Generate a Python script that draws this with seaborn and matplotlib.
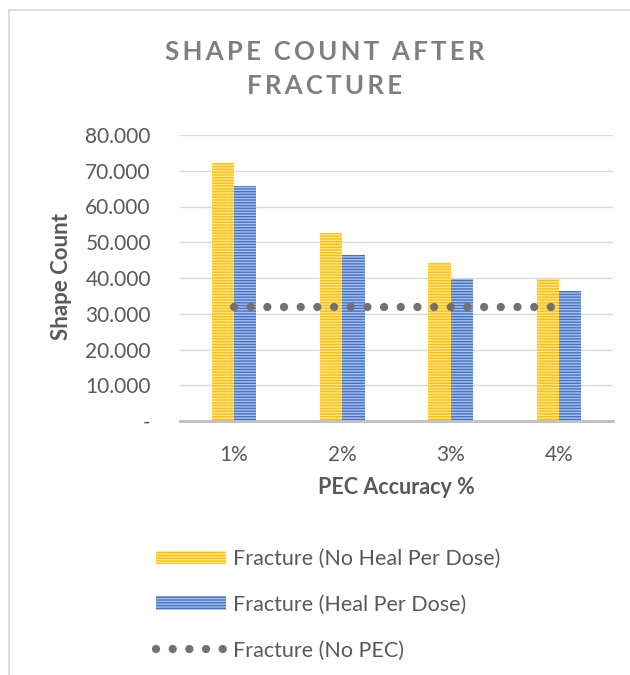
import matplotlib
matplotlib.use("Agg")
import matplotlib.pyplot as plt
from matplotlib.patches import Patch, Rectangle
from matplotlib.lines import Line2D
from matplotlib.ticker import FuncFormatter, MultipleLocator
import seaborn as sns
import pandas as pd

# ---- data ----
categories = ["1%", "2%", "3%", "4%"]
no_heal = [72200, 52600, 44200, 39700]
heal = [65700, 46400, 39700, 36400]
no_pec = [31900, 31900, 31900, 31900]
series_names = ["Fracture (No Heal Per Dose)", "Fracture (Heal Per Dose)", "Fracture (No PEC)"]
title = "SHAPE COUNT AFTER\nFRACTURE"
y_label = "Shape Count"
x_label = "PEC Accuracy %"

YELLOW = "#FFC000"
YELLOW_L = "#FFE699"
BLUE = "#4472C4"
BLUE_L = "#A9C1EA"
GRAY_DOT = "#767171"
TXT = "#595959"

sns.set_theme(style="white")
plt.rcParams["font.family"] = ["Lato", "DejaVu Sans"]
plt.rcParams["hatch.linewidth"] = 1.0

df = pd.DataFrame({
    "cat": categories * 2,
    "val": no_heal + heal,
    "series": [series_names[0]] * 4 + [series_names[1]] * 4,
})

fig = plt.figure(figsize=(6.3, 6.75), dpi=100)
ax = fig.add_axes([180 / 630, 1 - 421 / 675, (613 - 180) / 630, (421 - 135) / 675])

sns.barplot(data=df, x="cat", y="val", hue="series", order=categories,
            hue_order=series_names[:2], palette=[YELLOW, BLUE],
            width=0.41, ax=ax, legend=False, saturation=1)

for p in ax.patches:
    fc = p.get_facecolor()
    if abs(fc[0] - 1.0) < 0.05:
        p.set_edgecolor(YELLOW_L)
    else:
        p.set_edgecolor(BLUE_L)
    p.set_hatch("------")
    p.set_linewidth(0)

dot_ls = (0, (0.001, 2.0))
ax.plot(range(len(categories)), no_pec, color=GRAY_DOT, linewidth=6.0,
        linestyle=dot_ls, dash_capstyle="round", solid_capstyle="round", zorder=5)

ax.set_xlim(-0.5, 3.5)
ax.set_ylim(0, 80000)
ax.yaxis.set_major_locator(MultipleLocator(10000))
ax.yaxis.set_major_formatter(FuncFormatter(
    lambda v, pos: "-" if abs(v) < 1e-9 else f"{v:,.0f}".replace(",", ".")))
ax.grid(axis="y", color="#D9D9D9", linewidth=1.0)
ax.set_axisbelow(True)
for s in ["top", "right", "left"]:
    ax.spines[s].set_visible(False)
ax.spines["bottom"].set_color("#BFBFBF")
ax.spines["bottom"].set_linewidth(2.0)
ax.spines["bottom"].set_zorder(6)
ax.tick_params(axis="both", length=0, labelsize=15, labelcolor=TXT)
ax.tick_params(axis="y", pad=21)
ax.tick_params(axis="x", pad=17)
ax.set_xlabel("")
ax.set_ylabel("")

fig.text(61 / 630, 1 - 277 / 675, y_label, rotation=90, ha="center", va="center",
         fontsize=16, fontweight="bold", color=TXT)
fig.text(396 / 630, 1 - 488 / 675, x_label, ha="center", va="center",
         fontsize=15.5, fontweight="bold", color=TXT)

spaced = "\n".join("\u2009".join(list(line)) for line in title.split("\n"))
fig.text(325 / 630, 1 - 68.5 / 675, spaced, ha="center", va="center",
         fontsize=18.5, fontweight="bold", color="#7F7F7F", linespacing=1.5)

handles = [
    Patch(facecolor=YELLOW, edgecolor=YELLOW_L, hatch="------", linewidth=0),
    Patch(facecolor=BLUE, edgecolor=BLUE_L, hatch="------", linewidth=0),
    Line2D([0], [0], color=GRAY_DOT, linewidth=6.0, linestyle=dot_ls,
           dash_capstyle="round"),
]
fig.legend(handles, series_names, loc="upper left",
           bbox_to_anchor=(156 / 630, 1 - 549 / 675), frameon=False,
           fontsize=15.5, labelcolor=TXT, handlelength=3.25, handleheight=0.6,
           handletextpad=0.33, labelspacing=1.2, borderpad=0, borderaxespad=0)

fig.patches.append(Rectangle((9 / 630, -0.05), 1.2, 1 - 10 / 675 + 0.05,
                             transform=fig.transFigure, fill=False,
                             edgecolor="#D9D9D9", linewidth=1.2))

fig.savefig("out.png", dpi=100)
